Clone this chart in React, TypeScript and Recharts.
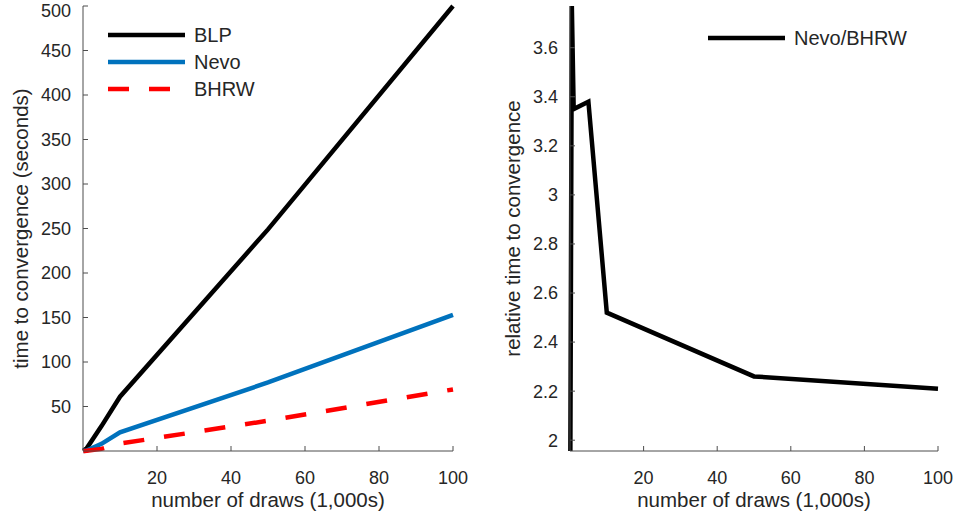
import { LineChart, Line, XAxis, YAxis } from 'recharts'

// draws in thousands
const draws = [0.1, 0.5, 1, 5, 10, 50, 100]
// time to convergence, seconds
const blpTime = [0.3, 1.5, 3, 28, 61, 249, 500]
const nevoTime = [0.05, 0.3, 0.6, 8.1, 21, 77, 153]
const bhrwTime = [0.026, 0.08, 0.18, 2.4, 8.3, 34, 69.2]
// relative time Nevo/BHRW
const nevoBhrwRatio = [1.956, 3.77, 3.35, 3.38, 2.52, 2.26, 2.21]

const drawTicks = [20, 40, 60, 80, 100]
const timeTicks = [50, 100, 150, 200, 250, 300, 350, 400, 450, 500]
const ratioTicks = [2, 2.2, 2.4, 2.6, 2.8, 3, 3.2, 3.4, 3.6]

const timeData = draws.map((d, i) => ({ draws: d, blp: blpTime[i], nevo: nevoTime[i], bhrw: bhrwTime[i] }))
const ratioData = draws.map((d, i) => ({ draws: d, ratio: nevoBhrwRatio[i] }))

const FONT = '"Liberation Sans", Arial, Helvetica, sans-serif'
const TEXT = '#262626'
const AXIS = '#4d4d4d'

const timeSeries = [
  { key: 'blp', name: 'BLP', color: '#000000', dash: undefined },
  { key: 'nevo', name: 'Nevo', color: '#0072BD', dash: undefined },
  { key: 'bhrw', name: 'BHRW', color: '#FF0000', dash: '21 20' },
]
const ratioSeries = [{ key: 'ratio', name: 'Nevo/BHRW', color: '#000000', dash: undefined }]

type Entry = { key: string; name: string; color: string; dash?: string }

// legend drawn outside the chart so it doesn't eat plot height
function LegendBox({ items, left, top, width }: { items: Entry[]; left: number; top: number; width: number }) {
  return (
    <svg width={width} height={items.length * 27 + 10}
      style={{ position: 'absolute', left, top, display: 'block', overflow: 'visible' }}>
      {items.map((s, i) => (
        <g key={s.key}>
          <line x1={0} x2={77} y1={8 + i * 27} y2={8 + i * 27} stroke={s.color} strokeWidth={4.5} strokeDasharray={s.dash} />
          <text x={86} y={8 + i * 27 + 7} fontSize={20} fill={TEXT} fontFamily={FONT}>{s.name}</text>
        </g>
      ))}
    </svg>
  )
}

const tickStyle = { fontSize: 18, fill: TEXT, fontFamily: FONT }
const labelStyle = { fontSize: 20.5, fill: TEXT, fontFamily: FONT, textAnchor: 'middle' as const }

export default function App() {
  return (
    <div style={{ position: 'absolute', left: 0, top: 0, width: 956, height: 520, background: '#fff' }}>
      <div style={{ position: 'absolute', left: 0, top: 0 }}>
        <LineChart width={480} height={520} data={timeData} margin={{ top: 6, right: 27, bottom: 0, left: 0 }}>
          <XAxis
            xAxisId="b" dataKey="draws" type="number" domain={[0, 100]} ticks={drawTicks}
            height={69} tickSize={-5} tickMargin={25} stroke={AXIS} tick={tickStyle}
            label={{ value: 'number of draws (1,000s)', position: 'insideBottom', offset: 13, style: labelStyle }}
          />
          <XAxis xAxisId="t" dataKey="draws" type="number" domain={[0, 100]} ticks={drawTicks}
            orientation="top" height={0} tickSize={-5} stroke={AXIS} tickFormatter={() => ''} />
          <YAxis
            yAxisId="l" type="number" domain={[0, 500]} ticks={timeTicks} width={83}
            tickSize={-5} tickMargin={17} stroke={AXIS} tick={tickStyle}
            label={{ value: 'time to convergence (seconds)', angle: -90, position: 'insideLeft', offset: 21, style: labelStyle }}
          />
          <YAxis yAxisId="r" type="number" domain={[0, 500]} ticks={timeTicks} orientation="right"
            width={0} tickSize={-5} stroke={AXIS} tickFormatter={() => ''} />
          {timeSeries.map(s => (
            <Line key={s.key} xAxisId="b" yAxisId="l" dataKey={s.key} name={s.name} stroke={s.color}
              strokeWidth={4.5} strokeDasharray={s.dash} dot={false} isAnimationActive={false} />
          ))}
        </LineChart>
      </div>
      <LegendBox items={timeSeries} left={108} top={27} width={160} />
      <div style={{ position: 'absolute', left: 480, top: 0 }}>
        <LineChart width={476} height={520} data={ratioData} margin={{ top: 6, right: 18, bottom: 0, left: 0 }}>
          <XAxis
            xAxisId="b" dataKey="draws" type="number" domain={[0, 100]} ticks={drawTicks}
            height={69} tickSize={-5} tickMargin={25} stroke={AXIS} tick={tickStyle}
            label={{ value: 'number of draws (1,000s)', position: 'insideBottom', offset: 13, style: labelStyle }}
          />
          <XAxis xAxisId="t" dataKey="draws" type="number" domain={[0, 100]} ticks={drawTicks}
            orientation="top" height={0} tickSize={-5} stroke={AXIS} tickFormatter={() => ''} />
          <YAxis
            yAxisId="l" type="number" domain={[1.956, 3.77]} ticks={ratioTicks} width={90} allowDataOverflow
            tickSize={-5} tickMargin={17} stroke={AXIS} tick={tickStyle}
            label={{ value: 'relative time to convergence', angle: -90, position: 'insideLeft', offset: 33, style: labelStyle }}
          />
          <YAxis yAxisId="r" type="number" domain={[1.956, 3.77]} ticks={ratioTicks} orientation="right" allowDataOverflow
            width={0} tickSize={-5} stroke={AXIS} tickFormatter={() => ''} />
          {ratioSeries.map(s => (
            <Line key={s.key} xAxisId="b" yAxisId="l" dataKey={s.key} name={s.name} stroke={s.color}
              strokeWidth={4.5} dot={false} isAnimationActive={false} />
          ))}
        </LineChart>
      </div>
      <LegendBox items={ratioSeries} left={708} top={30} width={230} />
    </div>
  )
}
